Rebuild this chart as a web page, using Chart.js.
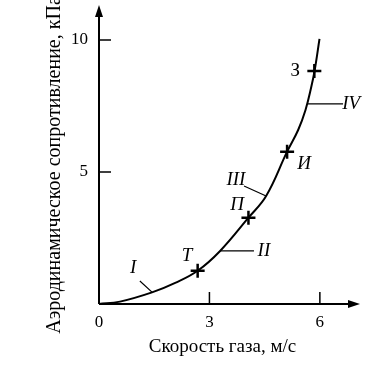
<!DOCTYPE html>
<html>
<head>
<meta charset="utf-8">
<script src="https://cdn.jsdelivr.net/npm/chart.js@4.4.1/dist/chart.umd.min.js"></script>
<style>
  html, body { margin: 0; padding: 0; background: #fff; }
</style>
</head>
<body>
<canvas id="myChart" width="369" height="368"></canvas>
<script>
// curve
const curveX = [0, 0.57, 1.44, 2.07, 2.68, 3.29, 4.06, 4.54, 5.11, 5.41, 5.61, 5.76, 5.86, 5.99];
const curveY = [0, 0.09, 0.44, 0.80, 1.26, 2.01, 3.27, 4.09, 5.77, 6.59, 7.35, 8.18, 8.86, 10.04];

// marked points (crosses) and their letters
const pointX = [2.68, 4.06, 5.11, 5.85];
const pointY = [1.26, 3.27, 5.77, 8.83];
const pointNames = ['Т', 'П', 'И', 'З'];
const pointNameX = [2.39, 3.75, 5.57, 5.33];
const pointNameY = [1.83, 3.75, 5.30, 8.83];

// zones I..IV with leader lines
const zoneNames = ['I', 'II', 'III', 'IV'];
const zoneNameX = [0.93, 4.48, 3.72, 6.85];
const zoneNameY = [1.38, 2.01, 4.70, 7.58];
const leaderFromX = [1.11, 3.29, 3.94, 5.67];
const leaderFromY = [0.87, 2.01, 4.47, 7.58];
const leaderToX = [1.44, 4.21, 4.54, 6.63];
const leaderToY = [0.45, 2.01, 4.09, 7.58];

const xTicks = [0, 3, 6];
const yTicks = [5, 10];

const serif = '"Liberation Serif", "DejaVu Serif", serif';
const ctx = document.getElementById('myChart');

const decorations = {
    id: 'decorations',
    afterDraw(chart) {
        const c = chart.ctx;
        const xs = chart.scales.x, ys = chart.scales.y;
        const area = chart.chartArea;
        const x0 = xs.getPixelForValue(0), y0 = ys.getPixelForValue(0);
        c.save();
        c.strokeStyle = '#000';
        c.fillStyle = '#000';
        c.lineWidth = 2;

        // axes with arrow heads
        const xEnd = area.right + 14, yEnd = area.top - 21;
        c.beginPath();
        c.moveTo(x0, y0); c.lineTo(xEnd - 6, y0);
        c.moveTo(x0, y0); c.lineTo(x0, yEnd + 6);
        c.stroke();
        c.beginPath();
        c.moveTo(xEnd, y0); c.lineTo(xEnd - 12, y0 - 4); c.lineTo(xEnd - 12, y0 + 4); c.closePath();
        c.moveTo(x0, yEnd); c.lineTo(x0 - 4, yEnd + 12); c.lineTo(x0 + 4, yEnd + 12); c.closePath();
        c.fill();

        // inner ticks
        c.lineWidth = 1.5;
        c.beginPath();
        xs.ticks.forEach(t => {
            if (t.value === 0) return;
            const p = xs.getPixelForValue(t.value);
            c.moveTo(p, y0); c.lineTo(p, y0 - 12);
        });
        ys.ticks.forEach(t => {
            const p = ys.getPixelForValue(t.value);
            c.moveTo(x0, p); c.lineTo(x0 + 12, p);
        });
        c.stroke();

        // leader lines
        c.lineWidth = 1.2;
        c.beginPath();
        zoneNames.forEach((n, i) => {
            c.moveTo(xs.getPixelForValue(leaderFromX[i]), ys.getPixelForValue(leaderFromY[i]));
            c.lineTo(xs.getPixelForValue(leaderToX[i]), ys.getPixelForValue(leaderToY[i]));
        });
        c.stroke();

        // labels
        c.textAlign = 'center';
        c.textBaseline = 'middle';
        c.font = 'italic 19px ' + serif;
        zoneNames.forEach((n, i) => {
            c.fillText(n, xs.getPixelForValue(zoneNameX[i]), ys.getPixelForValue(zoneNameY[i]));
        });
        pointNames.forEach((n, i) => {
            c.font = (n === 'З' ? '' : 'italic ') + '19px ' + serif;
            c.fillText(n, xs.getPixelForValue(pointNameX[i]), ys.getPixelForValue(pointNameY[i]));
        });
        c.restore();
    }
};

new Chart(ctx, {
    type: 'scatter',
    data: {
        datasets: [
            {
                data: curveX.map((x, i) => ({ x: x, y: curveY[i] })),
                showLine: true,
                borderColor: '#000',
                borderWidth: 2,
                pointRadius: 0,
                tension: 0.4,
                clip: false
            },
            {
                data: pointX.map((x, i) => ({ x: x, y: pointY[i] })),
                pointStyle: 'cross',
                pointRadius: 7,
                borderColor: '#000',
                borderWidth: 2.5,
                clip: false
            }
        ]
    },
    plugins: [decorations],
    options: {
        responsive: false,
        animation: false,
        layout: { padding: { top: 26, right: 23, left: 0, bottom: 0 } },
        plugins: { legend: { display: false }, tooltip: { enabled: false } },
        scales: {
            x: {
                type: 'linear',
                min: 0,
                max: 6.71,
                afterBuildTicks: (s) => { s.ticks = xTicks.map(v => ({ value: v })); },
                afterFit: (s) => { s.height = 64; },
                grid: { display: false, drawTicks: false },
                border: { display: false },
                ticks: { color: '#000', padding: 8, font: { family: serif, size: 17 } },
                title: {
                    display: true,
                    text: 'Скорость газа, м/с',
                    color: '#000',
                    font: { family: serif, size: 19 },
                    padding: { top: 2, bottom: 10 }
                }
            },
            y: {
                type: 'linear',
                min: 0,
                max: 10.53,
                afterBuildTicks: (s) => { s.ticks = yTicks.map(v => ({ value: v })); },
                afterFit: (s) => { s.width = 99; },
                grid: { display: false, drawTicks: false },
                border: { display: false },
                ticks: { color: '#000', padding: 11, font: { family: serif, size: 17 } },
                title: {
                    display: true,
                    text: 'Аэродинамическое сопротивление, кПа',
                    color: '#000',
                    font: { family: serif, size: 20 },
                    padding: { top: 43, bottom: 0 }
                }
            }
        }
    }
});
</script>
</body>
</html>
